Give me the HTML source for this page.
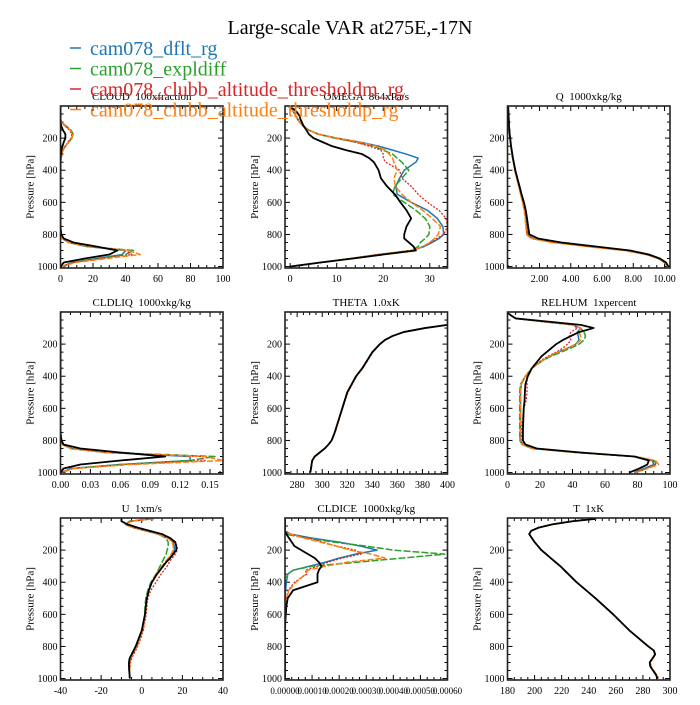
<!DOCTYPE html>
<html><head><meta charset="utf-8">
<style>
html,body{margin:0;padding:0;background:#fff;}
svg text{font-family:"Liberation Serif",serif;white-space:pre;}
</style></head>
<body>
<svg id="fig" xmlns="http://www.w3.org/2000/svg" width="700" height="700" viewBox="0 0 700 700">
<rect width="700" height="700" fill="#fff"/>
<text x="350" y="34" font-size="20" text-anchor="middle">Large-scale VAR at275E,-17N</text>
<g id="panels"></g>
<g id="legend">
 <line x1="70" y1="48" x2="81" y2="48" stroke="#1f77b4" stroke-width="1.5"/>
 <text x="90" y="55" font-size="20" fill="#1f77b4">cam078_dflt_rg</text>
 <line x1="70" y1="68.5" x2="81" y2="68.5" stroke="#2ca02c" stroke-width="1.5"/>
 <text x="90" y="75.5" font-size="20" fill="#2ca02c">cam078_expldiff</text>
 <line x1="70" y1="89" x2="81" y2="89" stroke="#d62728" stroke-width="1.5"/>
 <text x="90" y="96" font-size="20" fill="#d62728">cam078_clubb_altitude_thresholdm_rg</text>
 <line x1="70" y1="109.5" x2="81" y2="109.5" stroke="#ff7f0e" stroke-width="1.5"/>
 <text x="90" y="116.5" font-size="20" fill="#ff7f0e">cam078_clubb_altitude_thresholdp_rg</text>
</g>
</svg>
<script>
const levels=[5,20,40,60,80,100,125,150,175,200,225,250,275,300,325,350,400,450,500,550,600,650,700,750,800,825,850,875,900,925,950,975,1000];

const cloudBlue=[0,0,0,0,0,0.5,3,6,7.5,7,5,3,1.5,0.8,0.3,0.1,0,0,0,0,0,0,0,0,0.3,1,5,16,40,38,22,7,1];
const cloudGreen=[0,0,0,0,0,0.5,3.5,6.5,7.8,7,5,3,1.5,0.8,0.3,0.1,0,0,0,0,0,0,0,0,0.3,1,5,17,45,40,24,7,1];
const cloudRed=[0,0,0,0,0,0.5,3,5.5,7,6.5,4.5,3,1.5,0.8,0.3,0.1,0,0,0,0,0,0,0,0,0.3,1,5,18,40,44,25,8,1];
const cloudOrange=[0,0,0,0,0,0.5,3.5,6,7.5,7,5,3,1.5,0.8,0.3,0.1,0,0,0,0,0,0,0,0,0.3,1,5,18,42,49,28,9,1];
const cloudBlack=[0,0,0,0,0,0,0.5,1.5,3,3,2,1.2,0.6,0.3,0.1,0,0,0,0,0,0,0,0,0,0.5,2,8,22,35,30,15,2,0];

const omegaBlue=[0,0.3,0.8,1.2,1.6,2,2.8,4,6,10,15,19,22,25,27.5,27,24.5,23.5,22.7,23,26,29.5,31.6,32.8,33,32,30.5,28.8,26,19,13,6.5,0];
const omegaGreen=[0,0.3,0.8,1.2,1.6,2.2,3,4,6,9.5,14,18,20,22,23,24,25.5,24,22.5,22,24.5,27,29,30,29.8,29,28,27.5,26,19,13,6.5,0];
const omegaRed=[0,0.3,0.8,1.1,1.5,2,2.8,4,6,10,14,17,19.5,20,20,20.5,23.5,24,26,27.5,29.5,32,33.5,33.8,33,31.5,30,28.5,26,19,13,6.5,0];
const omegaOrange=[0,0.3,0.8,1.2,1.6,2,2.8,4,6,10,15,18.5,20.5,21.3,22,22.3,23,22.3,22.6,24,26,28.5,30.5,32.3,31.8,31,30,28.5,26,19,13,6.5,0];
const omegaBlack=[0,0.8,1.5,2,2.2,2.5,2.9,3.5,4,5,7,9,12,15.5,17,18,19,19.5,20.8,22.5,23.7,25,26,25,24.5,24.5,25.5,26.5,27,20,13.5,6.5,0];

const qBlue=[0,0,0.01,0.02,0.03,0.04,0.05,0.07,0.09,0.11,0.14,0.17,0.2,0.24,0.28,0.33,0.42,0.55,0.68,0.8,0.94,1.05,1.12,1.18,1.22,1.55,3.0,5.2,7.6,8.9,9.6,10.0,10.2];
const qGreen=[0,0,0.01,0.02,0.03,0.04,0.05,0.07,0.09,0.11,0.14,0.17,0.2,0.24,0.28,0.33,0.43,0.56,0.69,0.82,0.96,1.07,1.14,1.2,1.25,1.6,3.1,5.3,7.7,8.9,9.6,10.0,10.2];
const qRed=[0,0,0.01,0.02,0.03,0.04,0.05,0.07,0.09,0.11,0.14,0.17,0.2,0.24,0.28,0.33,0.42,0.55,0.68,0.8,0.94,1.04,1.1,1.15,1.2,1.5,2.9,5.1,7.5,8.8,9.6,10.0,10.2];
const qOrange=[0,0,0.01,0.02,0.03,0.04,0.05,0.07,0.09,0.11,0.14,0.17,0.2,0.24,0.28,0.33,0.41,0.54,0.67,0.79,0.92,1.02,1.08,1.13,1.17,1.45,2.8,5.0,7.4,8.8,9.6,10.0,10.2];
const qBlack=[0,0,0.01,0.02,0.03,0.04,0.05,0.07,0.09,0.12,0.15,0.18,0.22,0.26,0.3,0.35,0.45,0.58,0.72,0.85,1.0,1.12,1.2,1.27,1.35,1.9,3.4,5.6,7.8,9.0,9.7,10.1,10.25];

const liqBlue=[0,0,0,0,0,0,0,0,0,0,0,0,0,0,0,0,0,0,0,0,0,0,0,0,0.001,0.002,0.01,0.045,0.13,0.13,0.06,0.01,0.001];
const liqGreen=[0,0,0,0,0,0,0,0,0,0,0,0,0,0,0,0,0,0,0,0,0,0,0,0,0.001,0.002,0.012,0.05,0.155,0.13,0.06,0.012,0.001];
const liqRed=[0,0,0,0,0,0,0,0,0,0,0,0,0,0,0,0,0,0,0,0,0,0,0,0,0.001,0.002,0.01,0.045,0.14,0.145,0.065,0.012,0.001];
const liqOrange=[0,0,0,0,0,0,0,0,0,0,0,0,0,0,0,0,0,0,0,0,0,0,0,0,0.001,0.002,0.01,0.045,0.145,0.163,0.07,0.013,0.001];
const liqBlack=[0,0,0,0,0,0,0,0,0,0,0,0,0,0,0,0,0,0,0,0,0,0,0,0,0.001,0.003,0.02,0.06,0.105,0.06,0.02,0.003,0];

const thetaBlue=[600,480,430,410,400,382,365,356,350,346,343,340,338,336,334,332,327,323.5,320,318,316,314,312,310,307.5,305,302,298,294,292,291.5,291,290.5];
const thetaGreen=[600,480,430,410,400,382,365,356,350,346,343,340,338,336,334,332,327,323.5,320,318,316,314,312,310,307.5,305,302,298,294,292,291.5,291,290.5];
const thetaRed=[600,480,430,410,400,382,365,356,350,346,343.2,340.5,338.5,336.5,334.5,332.5,327.5,324,320.5,318.3,316.2,314,312,310,307.5,305,302,298,294,292,291.5,291,290.5];
const thetaOrange=[600,480,430,410,400,382,365,356,350,346.3,343.3,340.3,338.3,336.3,334.3,332.3,327.3,323.8,320.3,318.3,316.3,314.3,312.3,310.3,307.8,305.3,302.3,298.3,294.3,292.3,291.8,291.3,290.8];
const thetaBlack=[600,480,430,410,400,382,365,356,350,346,343,340,338,336,334,332,327,323.5,320,318,316,314,312,310,307.5,305,302,298,294,292,291.5,291,290.5];

const rhBlue=[0,2,5,22,40,45,43,43.5,44,42,37,31,26,22,18.5,15,11,8.5,8,8,8,8,8,8,8,9,15,42,78,89,90,84,78];
const rhGreen=[0,2,5,22,40,45,47,48,47,44,39,33,27,22,18.5,15,11,8,7.5,7.5,7.5,7.5,7.5,7.5,7.5,9,15,42,78,90,92,86,79];
const rhRed=[0,2,5,22,40,43,39,38,39,37,34,30,25,21,18,15,12,12,12,11.5,10,9.5,9,8.5,9,10,16,43,78,89,91,85,78];
const rhOrange=[0,2,5,22,40,45,44,45,45,42,37,31,26,22,18.5,15,11,8.5,8,8,8,8,8,8,7.5,9,15,42,79,91,93,86,79];
const rhBlack=[0,2,5,25,45,53,44,39,34,30,27,24,21,19,17,15,12.5,11,10.7,10.5,10,9.8,9.6,9.5,9.5,11,18,45,78,87,86,81,75];

const uBlue=[5,-6,-8,-4,2,8,13,15.5,16,16,15,13.5,12,10.5,9,7.5,5,3.5,2.5,2,1.6,1,0.5,-1,-2.5,-3.5,-4.5,-5.5,-6,-6,-6,-6,-6];
const uGreen=[5,-6,-8,-4,2,8,12,13,13,12.5,12,11,10,9,8,7,4.5,3,2,1.6,1.5,1,0.5,-1,-2.5,-3.5,-4.5,-5.5,-6,-6,-6,-6,-6];
const uRed=[6,-5,-8,-4,2,8,13,16,17.5,17.5,16.5,15,13.5,12.5,11,9.5,7,4.5,3,2.5,2.2,1.5,0.8,-0.5,-2,-3,-4,-5,-5.5,-5.8,-6,-6,-6];
const uOrange=[6,-5,-8,-4,2,8,13,15,15.5,15.5,14.5,13,11.5,10,8.5,7,5,3.5,2.5,2,1.8,1.2,0.5,-1,-2.5,-3.5,-4.5,-5.5,-6,-6,-6,-6,-6];
const uBlack=[-10,-10,-7,-2,4,10,14,16.5,17,17,15.5,14,12,10.5,9,7.5,5,3.5,2.5,2,1.6,0.8,0,-1.5,-3,-4,-5,-6,-6.3,-6.3,-6.2,-6,-5.8];

const iceBlue=[0,0,0,0,0,0.2,1,2,2.8,3.4,2.6,2,1.5,0.9,0.3,0.1,0.05,0.02,0,0,0,0,0,0,0,0,0,0,0,0,0,0,0];
const iceGreen=[0,0,0,0,0,0,0.8,1.8,3,4,5.9,4.3,2.7,1.0,0.3,0.1,0,0,0,0,0,0,0,0,0,0,0,0,0,0,0,0,0];
const iceRed=[0,0,0,0,0,0.2,0.85,1.4,1.9,2.6,2.8,2.1,1.6,1.2,0.75,0.8,0.35,0.12,0.05,0.02,0,0,0,0,0,0,0,0,0,0,0,0,0];
const iceOrange=[0,0,0,0,0,0.2,0.7,1.3,1.9,2.4,3.2,3.7,2.3,1.5,0.85,0.75,0.4,0.15,0.05,0.02,0,0,0,0,0,0,0,0,0,0,0,0,0];
const iceBlack=[0,0,0,0,0,0.05,0.15,0.25,0.35,0.6,0.85,1.1,1.25,1.35,1.25,1.2,1.2,0.3,0.1,0.05,0.03,0.01,0,0,0,0,0,0,0,0,0,0,0];

const tBlue=[245,228,213,203,197.5,196,198,200,202.5,205,208.5,212,215.5,219,222,225,231,238,245,251.5,258,264,270,277,284,288,289,287,285,285.5,287.5,289.5,291];
const tGreen=[245,228,213,203,197.5,196,198,200,202.5,205,208.5,212,215.5,219,222,225,231,238,245,251.5,258,264,270,277,284,288,289,287,285,285.5,287.5,289.5,291];
const tRed=[245,228,213,203,197.5,196,198,200,202.5,205,208.5,212,215.5,219,222,225,231.3,238.3,245.3,251.7,258,264,270,277,284,288,289,287,285,285.5,287.5,289.5,291];
const tOrange=[246,229,213.5,203,197.5,196,198,200,202.5,205,208.5,212,215.5,219,222,225,231,238,245,251.5,258,264,270,277,284.3,288.3,289.3,287.5,285.5,286,288,290,291.5];
const tBlack=[245,228,213,203,197.5,196,198,200,202.5,205,208.5,212,215.5,219,222,225,231,238,245,251.5,258,264,270,277,284,288,289,287,285,285.5,287.5,289.5,291];

const cloudTicks=[0,20,40,60,80,100];
const omegaTicks=[0,10,20,30];
const qTicks=[2,4,6,8,10];
const liqTicks=[0,0.03,0.06,0.09,0.12,0.15];
const thetaTicks=[280,300,320,340,360,380,400];
const rhTicks=[0,20,40,60,80,100];
const uTicks=[-40,-20,0,20,40];
const iceTicks=[0,1,2,3,4,5,6];
const tTicks=[180,200,220,240,260,280,300];
const pTicks=[200,400,600,800,1000];

const NS="http://www.w3.org/2000/svg";
function mk(tag,attrs,parent){const e=document.createElementNS(NS,tag);for(const k in attrs)e.setAttribute(k,attrs[k]);if(parent)parent.appendChild(e);return e;}

const colors=['#1f77b4','#2ca02c','#d62728','#ff7f0e','#000000'];
const dashes=['none','7,2','2,1.5','6,2','none'];
const widths=[1.5,1.5,1.3,1.5,1.8];
const snames=['dflt','expldiff','thresholdm','thresholdp','obs'];

const panels=[
 {name:'cloud',title:'CLOUD  100xfraction',col:0,row:0,x0:0,x1:100,ticks:cloudTicks,minor:5,fmt:v=>String(v),series:[cloudBlue,cloudGreen,cloudRed,cloudOrange,cloudBlack]},
 {name:'omega',title:'OMEGA  864xPa/s',col:1,row:0,x0:-1.1,x1:33.8,ticks:omegaTicks,minor:2,fmt:v=>String(v),series:[omegaBlue,omegaGreen,omegaRed,omegaOrange,omegaBlack]},
 {name:'q',title:'Q  1000xkg/kg',col:2,row:0,x0:-0.05,x1:10.35,ticks:qTicks,minor:0.5,fmt:v=>v.toFixed(2),series:[qBlue,qGreen,qRed,qOrange,qBlack]},
 {name:'cldliq',title:'CLDLIQ  1000xkg/kg',col:0,row:1,x0:0,x1:0.163,ticks:liqTicks,minor:0.01,fmt:v=>v.toFixed(2),series:[liqBlue,liqGreen,liqRed,liqOrange,liqBlack]},
 {name:'theta',title:'THETA  1.0xK',col:1,row:1,x0:270.3,x1:400,ticks:thetaTicks,minor:5,fmt:v=>String(v),series:[thetaBlue,thetaGreen,thetaRed,thetaOrange,thetaBlack]},
 {name:'relhum',title:'RELHUM  1xpercent',col:2,row:1,x0:0,x1:100,ticks:rhTicks,minor:5,fmt:v=>String(v),series:[rhBlue,rhGreen,rhRed,rhOrange,rhBlack]},
 {name:'u',title:'U  1xm/s',col:0,row:2,x0:-40,x1:40,ticks:uTicks,minor:5,fmt:v=>String(v),series:[uBlue,uGreen,uRed,uOrange,uBlack]},
 {name:'cldice',title:'CLDICE  1000xkg/kg',col:1,row:2,x0:0,x1:6,ticks:iceTicks,minor:0.25,fmt:v=>(v*0.0001).toFixed(5),series:[iceBlue,iceGreen,iceRed,iceOrange,iceBlack]},
 {name:'t',title:'T  1xK',col:2,row:2,x0:180,x1:300,ticks:tTicks,minor:5,fmt:v=>String(v),series:[tBlue,tGreen,tRed,tOrange,tBlack]}
];
const lefts=[60.5,285,507.5], tops=[106,312,518], W=162.5, H=162, P0=0, P1=1009;

const root=document.getElementById('panels');
panels.forEach(pn=>{
  const L=lefts[pn.col], T=tops[pn.row];
  const xs=v=>L+(v-pn.x0)/(pn.x1-pn.x0)*W;
  const ys=p=>T+(p-P0)/(P1-P0)*H;
  const g=mk('g',{},root);
  
  
  const cid='clip-'+pn.name;
  const cp=mk('clipPath',{id:cid},g);
  mk('rect',{x:L,y:T,width:W,height:H},cp);
  const tt=mk('text',{x:L+W/2,y:T-6,'font-size':11,'text-anchor':'middle'},g);
  
  
  tt.textContent=pn.title;
  const yl=mk('text',{x:0,y:0,'font-size':11,'text-anchor':'middle',transform:`translate(${L-27},${T+H/2}) rotate(-90)`},g);
  
  
  yl.textContent='Pressure [hPa]';
  const tg=mk('g',{stroke:'#000','stroke-width':1},g);
  
  
  const eps=1e-9;
  const nmin=Math.round((pn.x1-pn.x0)/pn.minor)+2;
  const start=Math.ceil(pn.x0/pn.minor-eps)*pn.minor;
  for(let i=0;i<nmin;i++){
    const v=start+i*pn.minor; if(v>pn.x1+eps)break;
    const isMaj=pn.ticks.some(t=>Math.abs(t-v)<pn.minor/10);
    const len=isMaj?5:3, x=xs(v);
    mk('line',{x1:x,y1:T+H,x2:x,y2:T+H-len},tg);
    mk('line',{x1:x,y1:T,x2:x,y2:T+len},tg);
  }
  for(let p=50;p<=1000;p+=50){
    const isMaj=p%200===0, len=isMaj?5:3, y=ys(p);
    mk('line',{x1:L,y1:y,x2:L+len,y2:y},tg);
    mk('line',{x1:L+W,y1:y,x2:L+W-len,y2:y},tg);
  }
  pn.ticks.forEach(v=>{
    const t=mk('text',{x:xs(v),y:T+H+14,'font-size':pn.name==='cldice'?9:10,'text-anchor':'middle'},g);
    
    
    t.textContent=pn.fmt(v);
  });
  pTicks.forEach(p=>{
    const t=mk('text',{x:L-3,y:ys(p)+3.5,'font-size':10,'text-anchor':'end'},g);
    
    
    t.textContent=String(p);
  });
  const sg=mk('g',{'clip-path':`url(#${cid})`,fill:'none'},g);
  pn.series.forEach((arr,si)=>{
    const d=arr.map((v,i)=>(i?'L':'M')+xs(v).toFixed(2)+','+ys(levels[i]).toFixed(2)).join(' ');
    const path=mk('path',{d:d,stroke:colors[si],'stroke-width':widths[si],'stroke-linejoin':'round'},sg);
    if(dashes[si]!=='none')path.setAttribute('stroke-dasharray',dashes[si]);
    
    
  });
  const box=mk('rect',{x:L,y:T,width:W,height:H,fill:'none',stroke:'#222','stroke-width':1.6},g);
  
  
});
document.getElementById('fig').appendChild(document.getElementById('legend'));
</script>
</body></html>
